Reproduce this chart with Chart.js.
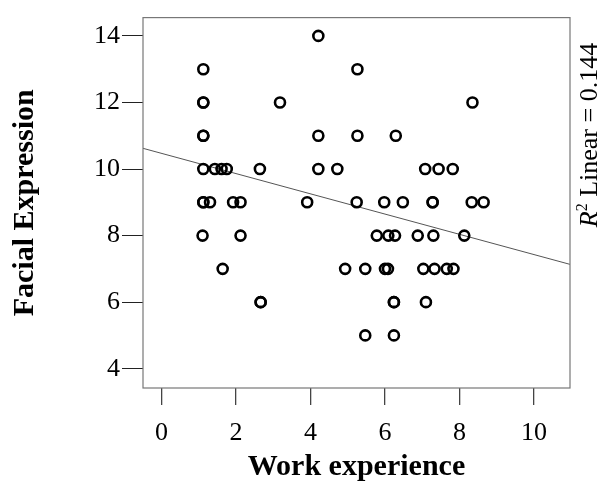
<!DOCTYPE html>
<html>
<head>
<meta charset="utf-8">
<script src="https://cdn.jsdelivr.net/npm/chart.js@4"></script>
<style>
  html, body { margin: 0; padding: 0; background: #fff; }
</style>
</head>
<body>
<canvas id="chart" width="599" height="489"></canvas>
<script>
// work experience (x) and facial expression score (y), one entry per person
const workExp = [
  4.21,
  1.12, 5.26,
  1.12, 1.12, 3.18, 8.35,
  1.12, 1.12, 4.21, 5.26, 6.29,
  1.12, 1.43, 1.61, 1.75, 2.64, 4.21, 4.72, 7.08, 7.44, 7.82,
  1.12, 1.12, 1.30, 1.92, 2.12, 3.91, 5.24, 5.98, 6.48, 7.28, 7.28, 8.33, 8.65,
  1.10, 2.12, 5.78, 6.09, 6.27, 6.88, 7.30, 8.13,
  1.64, 4.93, 5.47, 6.00, 6.08, 7.03, 7.33, 7.66, 7.84,
  2.66, 2.66, 6.24, 6.24, 7.10,
  5.47, 6.24
];
const facialExp = [
  14,
  13, 13,
  12, 12, 12, 12,
  11, 11, 11, 11, 11,
  10, 10, 10, 10, 10, 10, 10, 10, 10, 10,
  9, 9, 9, 9, 9, 9, 9, 9, 9, 9, 9, 9, 9,
  8, 8, 8, 8, 8, 8, 8, 8,
  7, 7, 7, 7, 7, 7, 7, 7, 7,
  6, 6, 6, 6, 6,
  5, 5
];

const xTicks = [0, 2, 4, 6, 8, 10];
const yTicks = [4, 6, 8, 10, 12, 14];
const xMin = -0.5, xMax = 10.97;
const yMin = 3.42, yMax = 14.55;

// fitted line as drawn in the figure
const fitIntercept = 10.47;
const fitSlope = -0.304;
const r2Value = '0.144';

const serif = '"Liberation Serif", "Times New Roman", serif';

const points = workExp.map((x, i) => ({ x: x, y: facialExp[i] }));
const fitLine = [xMin, xMax].map(x => ({ x: x, y: fitIntercept + fitSlope * x }));

const frame = {
  id: 'frame',
  afterDraw(chart) {
    const ctx = chart.ctx;
    const a = chart.chartArea;
    ctx.save();
    ctx.strokeStyle = '#777';
    ctx.lineWidth = 1.2;
    ctx.strokeRect(a.left, a.top, a.right - a.left, a.bottom - a.top);

    // R² label on the right, reading upwards
    ctx.translate(597, 135);
    ctx.rotate(-Math.PI / 2);
    ctx.fillStyle = '#000';
    ctx.textBaseline = 'alphabetic';
    const big = '26px ' + serif;
    const sup = '16px ' + serif;
    const rest = ' Linear = ' + r2Value;
    ctx.font = 'italic ' + big;
    const wR = ctx.measureText('R').width;
    ctx.font = sup;
    const w2 = ctx.measureText('2').width;
    ctx.font = big;
    const wRest = ctx.measureText(rest).width;
    let x = -(wR + w2 + wRest) / 2;
    ctx.font = 'italic ' + big;
    ctx.fillText('R', x, 0);
    x += wR;
    ctx.font = sup;
    ctx.fillText('2', x, -10);
    x += w2;
    ctx.font = big;
    ctx.fillText(rest, x, 0);
    ctx.restore();
  }
};

new Chart(document.getElementById('chart').getContext('2d'), {
  type: 'scatter',
  data: {
    datasets: [
      {
        data: points,
        pointStyle: 'circle',
        pointRadius: 5,
        pointHoverRadius: 5,
        pointBorderWidth: 2.6,
        borderColor: '#000',
        backgroundColor: 'rgba(0,0,0,0)'
      },
      {
        type: 'line',
        data: fitLine,
        borderColor: '#555',
        borderWidth: 1,
        pointRadius: 0,
        fill: false
      }
    ]
  },
  options: {
    responsive: false,
    animation: false,
    events: [],
    layout: { padding: { top: 11, right: 29, left: 0, bottom: 0 } },
    plugins: { legend: { display: false }, tooltip: { enabled: false } },
    scales: {
      x: {
        type: 'linear',
        min: xMin,
        max: xMax,
        afterFit: s => { s.height = 101; },
        afterBuildTicks: s => { s.ticks = xTicks.map(v => ({ value: v })); },
        grid: { drawOnChartArea: false, drawTicks: true, tickLength: 17, color: '#444', lineWidth: 1.3 },
        border: { display: false },
        ticks: { color: '#000', padding: 13, font: { family: serif, size: 26 } },
        title: {
          display: true,
          text: 'Work experience',
          color: '#000',
          font: { family: serif, size: 30, weight: 'bold' },
          padding: { top: 0, bottom: 4 }
        }
      },
      y: {
        type: 'linear',
        min: yMin,
        max: yMax,
        afterFit: s => { s.width = 143; },
        afterBuildTicks: s => { s.ticks = yTicks.map(v => ({ value: v })); },
        grid: { drawOnChartArea: false, drawTicks: true, tickLength: 21, color: '#222', lineWidth: 1 },
        border: { display: false },
        ticks: { color: '#000', padding: 2, font: { family: serif, size: 26 } },
        title: {
          display: true,
          text: 'Facial Expression',
          color: '#000',
          font: { family: serif, size: 30, weight: 'bold' },
          padding: { top: 7, bottom: 0 }
        }
      }
    }
  },
  plugins: [frame]
});
</script>
</body>
</html>
